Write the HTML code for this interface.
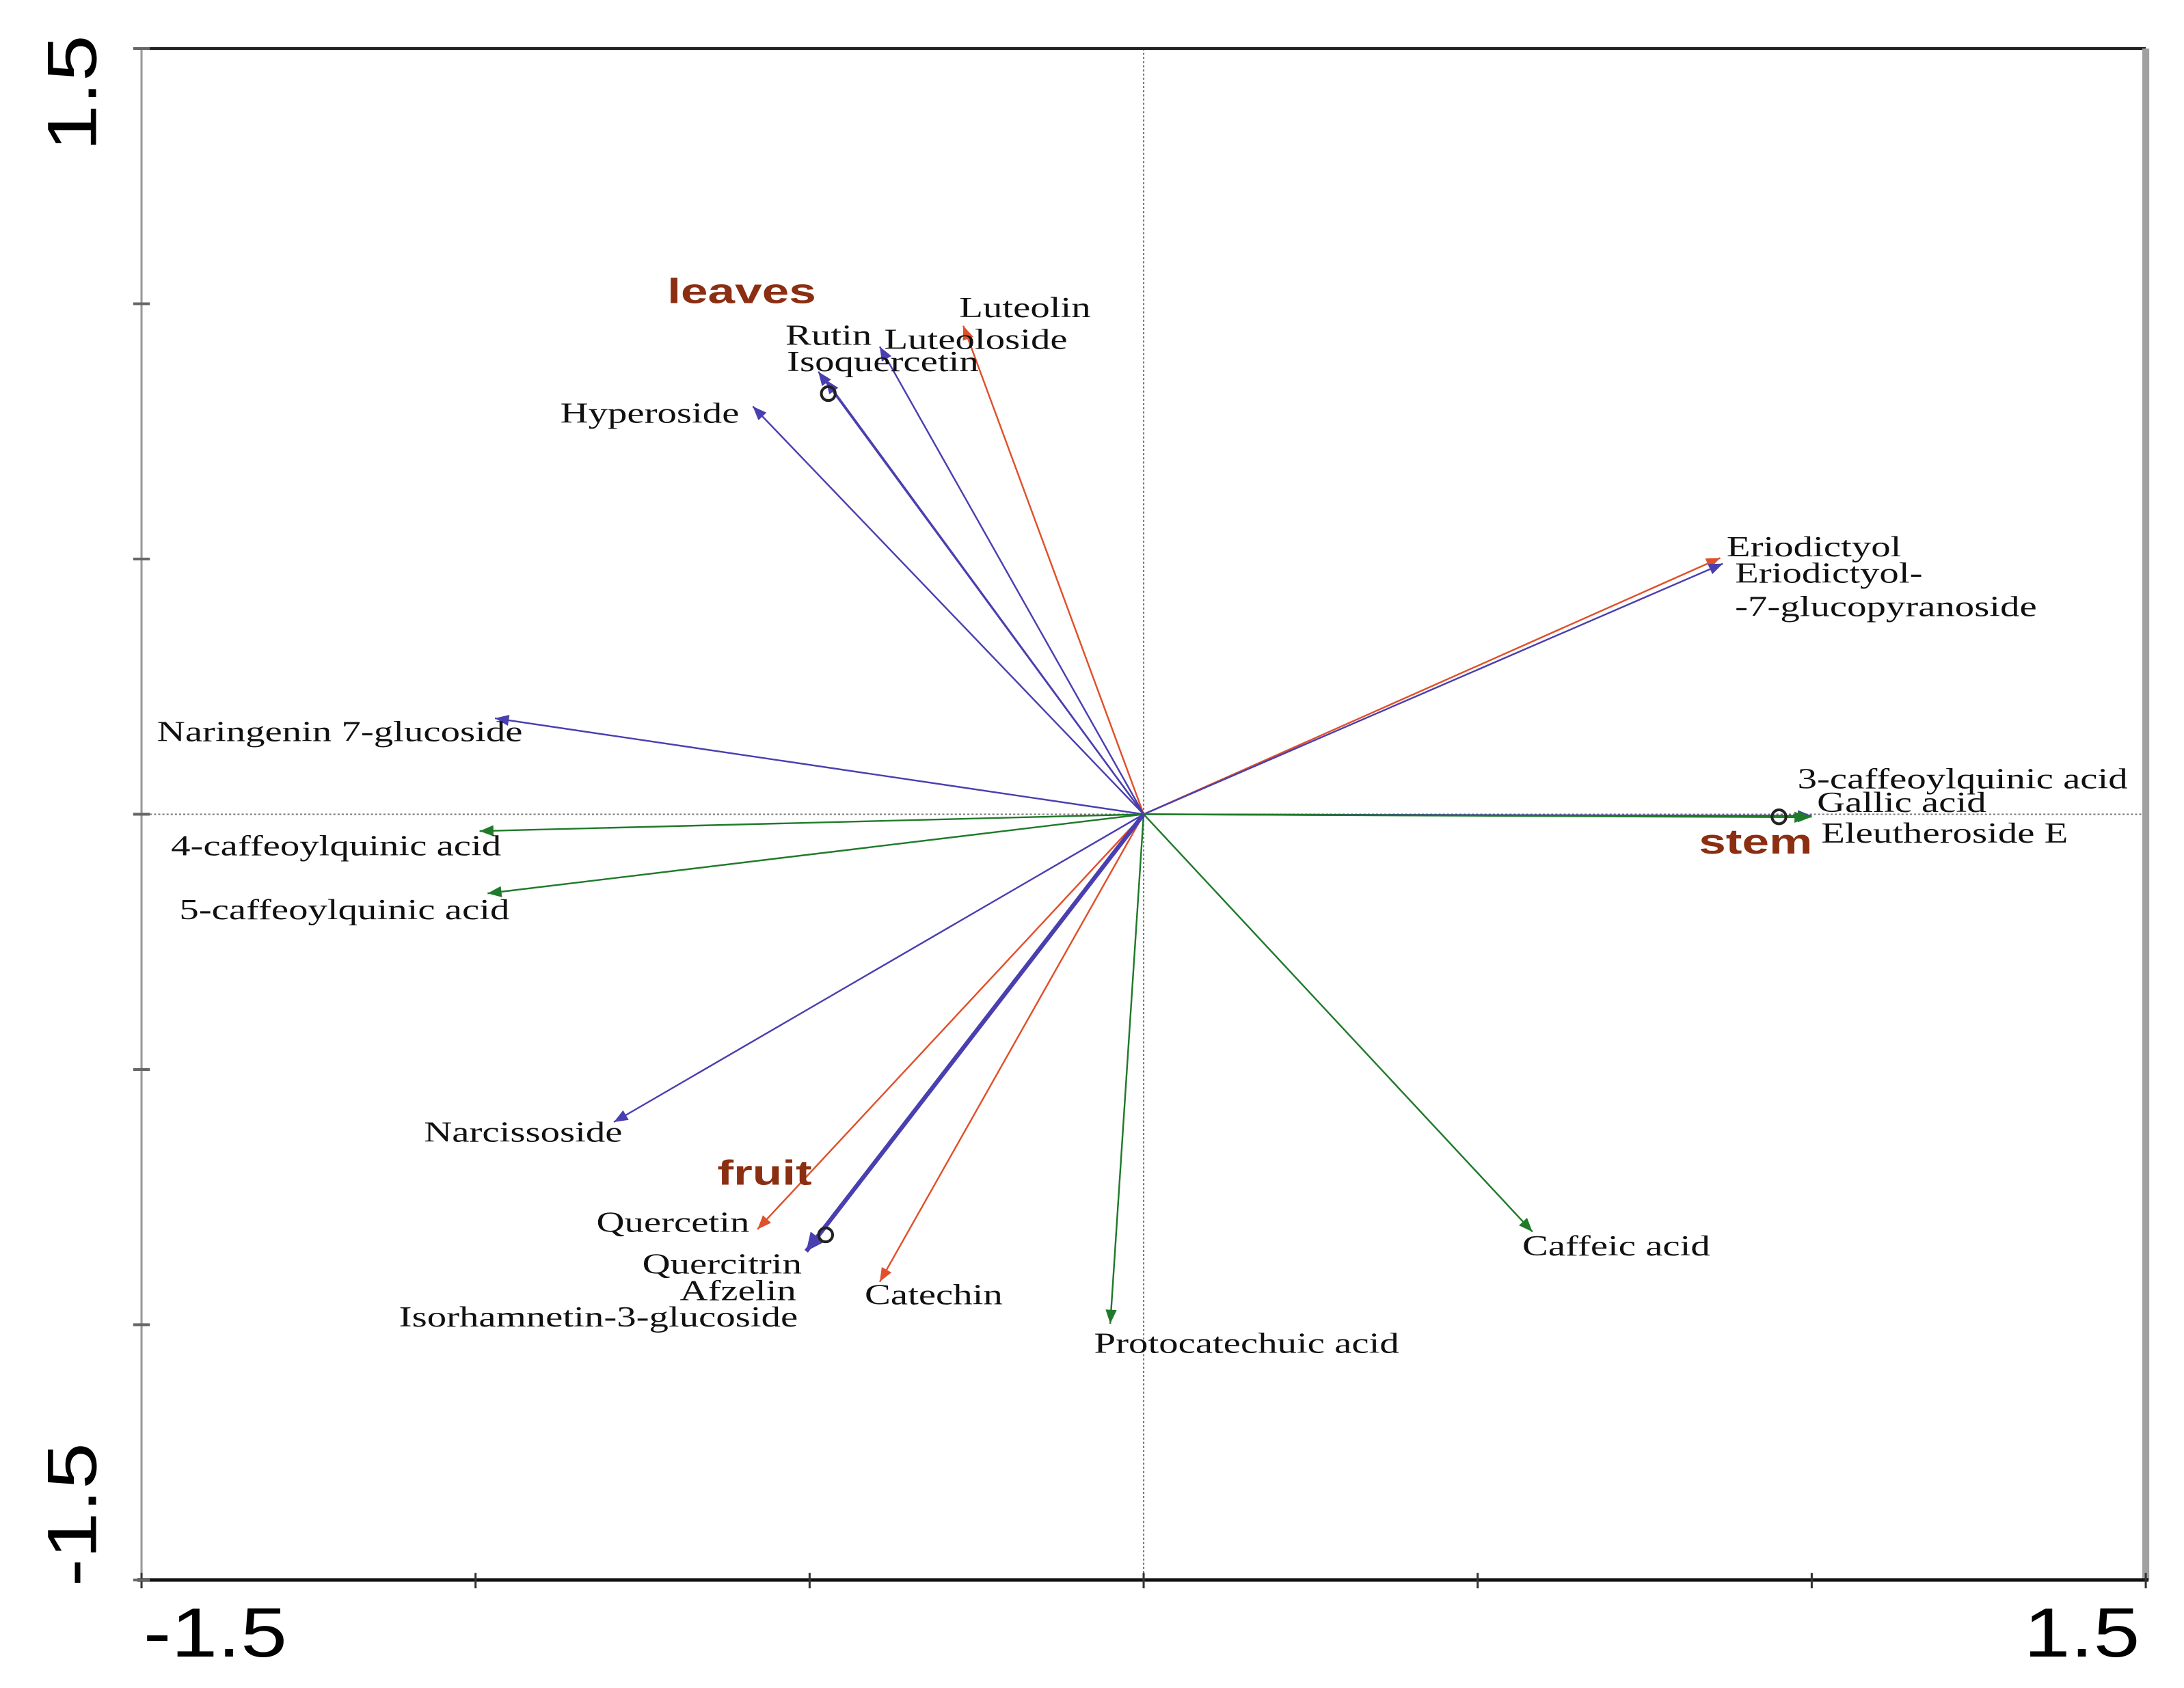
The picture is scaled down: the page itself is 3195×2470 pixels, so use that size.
<!DOCTYPE html>
<html><head><meta charset="utf-8"><style>
html,body{margin:0;padding:0;background:#fff;}
svg{display:block;}
.lbl{font-family:"Liberation Serif",serif;font-size:21px;fill:#111;}
.grp{font-family:"Liberation Sans",sans-serif;font-size:25px;font-weight:bold;fill:#8b2e12;}
.tick{font-family:"Liberation Sans",sans-serif;font-size:50px;fill:#000;}
</style></head><body>
<svg id="chart" width="3195" height="2470" viewBox="0 0 1571 1214" preserveAspectRatio="none" xmlns="http://www.w3.org/2000/svg">
<g id="axes"></g>
<g id="arrows"></g>
<g id="labels"></g>
</svg>
<script>
const names = ["Luteolin","Luteoloside","Rutin","Isoquercetin","Hyperoside","Eriodictyol","Eriodictyol-7-glucopyranoside","Naringenin 7-glucoside","4-caffeoylquinic acid","5-caffeoylquinic acid","3-caffeoylquinic acid","Gallic acid","Eleutheroside E","Caffeic acid","Protocatechuic acid","Catechin","Narcissoside","Quercetin","Quercitrin","Afzelin","Isorhamnetin-3-glucoside"];
const xs = [-0.27,-0.395,-0.487,-0.476,-0.585,0.863,0.867,-0.971,-0.994,-0.982,1.0,1.0,0.995,0.582,-0.05,-0.395,-0.793,-0.578,-0.505,-0.505,-0.505];
const ys = [0.957,0.916,0.867,0.851,0.799,0.502,0.491,0.188,-0.033,-0.155,-0.003,-0.005,-0.006,-0.818,-0.998,-0.916,-0.603,-0.813,-0.856,-0.856,-0.856];
const kinds = ["r","b","b","b","b","r","b","b","g","g","b","g","g","g","g","r","b","r","b","b","b"];
const sampleNames = ["leaves","stem","fruit"];
const sampleX = [-0.472,0.951,-0.476];
const sampleY = [0.824,-0.005,-0.824];
const xTicks = [-1.5,-1,-0.5,0,0.5,1,1.5];
const yTicks = [-1.5,-1,-0.5,0,0.5,1,1.5];

const L=101.8,R=1543.5,T=34.9,B=1136.3;
const sx=v=>L+(v+1.5)/3*(R-L);
const sy=v=>B-(v+1.5)/3*(B-T);
const NS="http://www.w3.org/2000/svg";
function mk(tag,attrs,parent){const e=document.createElementNS(NS,tag);for(const k in attrs)e.setAttribute(k,attrs[k]);parent.appendChild(e);return e;}
const ax=document.getElementById('axes'),ar=document.getElementById('arrows'),lb=document.getElementById('labels');
const col={r:"#e0502a",b:"#4a3fb0",g:"#1f7a2a"};

let e;
e=mk('line',{x1:sx(0),x2:sx(0),y1:T,y2:B,stroke:"#777","stroke-width":1,"stroke-dasharray":"1.5,1.5"},ax);

e=mk('line',{x1:L,x2:R,y1:sy(0),y2:sy(0),stroke:"#777","stroke-width":1,"stroke-dasharray":"1.5,1.5"},ax);

e=mk('line',{x1:L,x2:R,y1:T,y2:T,stroke:"#222","stroke-width":2},ax);

e=mk('line',{x1:L,x2:L,y1:T,y2:B,stroke:"#999","stroke-width":1.5},ax);

e=mk('line',{x1:R,x2:R,y1:T,y2:B,stroke:"#a0a0a0","stroke-width":5},ax);

e=mk('line',{x1:L-3,x2:R+2,y1:B,y2:B,stroke:"#111","stroke-width":2.5},ax);

xTicks.forEach(t=>{e=mk('line',{x1:sx(t),x2:sx(t),y1:B-5,y2:B+6,stroke:"#333","stroke-width":1.5},ax);
});
yTicks.forEach(t=>{e=mk('line',{x1:L-6,x2:L+6,y1:sy(t),y2:sy(t),stroke:"#666","stroke-width":2},ax);
});
e=mk('text',{x:0,y:0,"text-anchor":"middle",class:"tick",transform:`translate(${sx(-1.5)+53},${B+55}) scale(1.2,1)`},ax);e.textContent=String(xTicks[0]);

e=mk('text',{x:0,y:0,"text-anchor":"middle",class:"tick",transform:`translate(${sx(1.5)-46},${B+55}) scale(1.2,1)`},ax);e.textContent=String(xTicks[6]);

e=mk('text',{x:0,y:0,"text-anchor":"middle",class:"tick",transform:`translate(69,${T+32}) rotate(-90) scale(1.2,1)`},ax);e.textContent=String(yTicks[6]);

e=mk('text',{x:0,y:0,"text-anchor":"middle",class:"tick",transform:`translate(69,${B-47}) rotate(-90) scale(1.2,1)`},ax);e.textContent=String(yTicks[0]);


const cx=sx(0),cy=sy(0);
names.forEach((n,i)=>{
  const x2=sx(xs[i]),y2=sy(ys[i]);const c=col[kinds[i]];
  const thick=i>=18;
  e=mk('line',{x1:cx,y1:cy,x2:x2,y2:y2,stroke:c,"stroke-width":thick?3:1.2},ar);
  
  
  const a=Math.atan2(y2-cy,x2-cx),h=thick?13:10,w=thick?6:4;
  const bx=x2-h*Math.cos(a),by=y2-h*Math.sin(a);
  const p=`${x2},${y2} ${bx-w*Math.sin(a)},${by+w*Math.cos(a)} ${bx+w*Math.sin(a)},${by-w*Math.cos(a)}`;
  e=mk('polygon',{points:p,fill:c},ar);
  
});
sampleNames.forEach((n,i)=>{
  e=mk('circle',{cx:sx(sampleX[i]),cy:sy(sampleY[i]),r:5,fill:"none",stroke:"#222","stroke-width":2},ar);
  
});
const lblPos=[["Luteolin",690,228],["Luteoloside",636,251],["Rutin",565,248],["Isoquercetin",566,267],["Hyperoside",403,304],["Eriodictyol",1242,400],["Eriodictyol-",1248,419],["-7-glucopyranoside",1248,443],["Naringenin 7-glucoside",113,533],["3-caffeoylquinic acid",1293,567],["Gallic acid",1307,584],["Eleutheroside E",1310,606],["4-caffeoylquinic acid",123,615],["5-caffeoylquinic acid",129,661],["Narcissoside",305,821],["Quercetin",429,886],["Quercitrin",462,916],["Afzelin",489,935],["Isorhamnetin-3-glucoside",287,954],["Catechin",622,938],["Protocatechuic acid",787,973],["Caffeic acid",1095,903]];
lblPos.forEach(d=>{e=mk('text',{x:0,y:0,class:"lbl",transform:`translate(${d[1]},${d[2]}) scale(1.33,1)`},lb);e.textContent=d[0];
});
[["leaves",480,218],["stem",1222,614],["fruit",516,852]].forEach(d=>{e=mk('text',{x:0,y:0,class:"grp",transform:`translate(${d[1]},${d[2]}) scale(1.4,1)`},lb);e.textContent=d[0];
});
</script>
</body></html>
